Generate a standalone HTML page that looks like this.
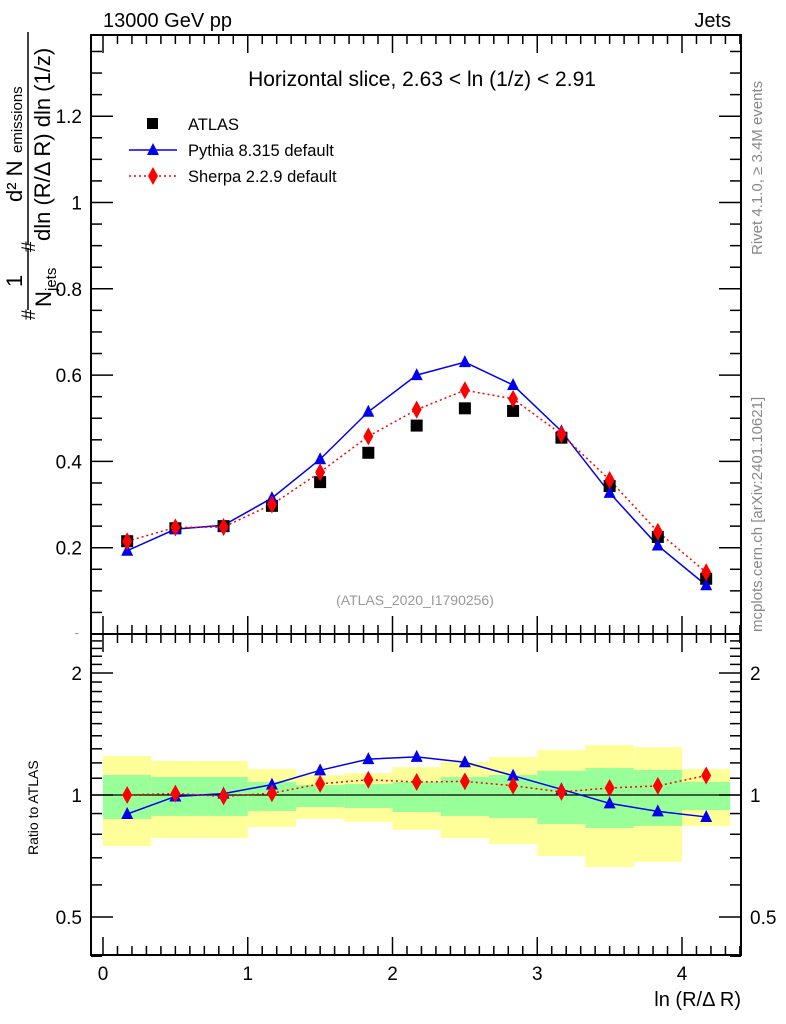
<!DOCTYPE html>
<html><head><meta charset="utf-8"><style>
body{margin:0;background:#fff;}
svg{display:block;font-family:"Liberation Sans",sans-serif;}
</style></head><body>
<svg id="chart" width="786" height="1024" viewBox="0 0 786 1024" xmlns="http://www.w3.org/2000/svg">
<defs><clipPath id="zclip"><rect x="0" y="0" width="90" height="634"/></clipPath></defs>
<text x="103" y="27" font-size="20">13000 GeV pp</text>
<text x="731" y="27" font-size="20" text-anchor="end">Jets</text>
<text x="422" y="86" font-size="21" text-anchor="middle">Horizontal slice, 2.63 &lt; ln (1/z) &lt; 2.91</text>
<text x="415" y="605" font-size="14" fill="#999" text-anchor="middle">(ATLAS_2020_I1790256)</text>
<text transform="translate(762,255) rotate(-90)" font-size="15" fill="#888">Rivet 4.1.0, ≥ 3.4M events</text>
<text transform="translate(762,632) rotate(-90)" font-size="15" fill="#888">mcplots.cern.ch [arXiv:2401.10621]</text>
<text x="82" y="647" font-size="19" text-anchor="end" clip-path="url(#zclip)">0</text>
<g font-size="22">
<text transform="translate(50,241) rotate(-90)">dln (R/Δ R) dln (1/z)</text>
<line x1="28" y1="32" x2="28" y2="244" stroke="#000" stroke-width="1.5"/>
<text transform="translate(22,202) rotate(-90)">d² N</text>
<text transform="translate(22,153) rotate(-90)" font-size="15">emissions</text>
<text transform="translate(35,252) rotate(-90)" font-size="19">#</text>
<line x1="28" y1="248" x2="28" y2="310" stroke="#000" stroke-width="1.5"/>
<text transform="translate(22,287) rotate(-90)">1</text>
<text transform="translate(51,307) rotate(-90)">N</text>
<text transform="translate(56,291) rotate(-90)" font-size="15">jets</text>
<text transform="translate(35,320) rotate(-90)" font-size="19">#</text>
</g>
<text transform="translate(38,855) rotate(-90)" font-size="14">Ratio to ATLAS</text>
<text x="741" y="1006" font-size="20" text-anchor="end">ln (R/Δ R)</text>
<g id="plot"></g>
</svg>
<script>
const binEdges=[0,0.333,0.667,1,1.333,1.667,2,2.333,2.667,3,3.333,3.667,4,4.333];
const xCenters=[0.167,0.5,0.833,1.167,1.5,1.833,2.167,2.5,2.833,3.167,3.5,3.833,4.167];
const atlas=[0.215,0.245,0.25,0.297,0.352,0.42,0.483,0.523,0.517,0.455,0.343,0.225,0.128];
const pythia=[0.193,0.243,0.252,0.315,0.405,0.515,0.6,0.63,0.577,0.47,0.327,0.205,0.113];
const sherpa=[0.215,0.247,0.248,0.300,0.375,0.458,0.52,0.565,0.545,0.463,0.357,0.237,0.143];
const yellowHi=[1.248,1.213,1.213,1.159,1.12,1.133,1.172,1.206,1.241,1.291,1.328,1.313,1.159];
const yellowLo=[0.748,0.783,0.783,0.834,0.873,0.858,0.82,0.783,0.757,0.707,0.664,0.684,0.839];
const greenHi=[1.12,1.108,1.108,1.077,1.058,1.064,1.077,1.108,1.12,1.146,1.166,1.153,1.077];
const greenLo=[0.873,0.888,0.888,0.913,0.934,0.929,0.908,0.888,0.877,0.848,0.829,0.839,0.918];
const xTicks=[0,1,2,3,4];
const yTicks=[0.2,0.4,0.6,0.8,1,1.2];
const yTickLabels=["0.2","0.4","0.6","0.8","1","1.2"];
const rTicks=[0.5,1,2];
const rTickLabels=["0.5","1","2"];

const NS="http://www.w3.org/2000/svg";
const g=document.getElementById('plot');
const L=91,R=741,T=35,MB=634,RT=634,RB=955;
const X=v=>103+v*144.75;
const Y=v=>634-v*431.5;
const YR=v=>795-Math.log2(v)*122;
function mk(tag,attrs,parent){const e=document.createElementNS(NS,tag);for(const k in attrs)e.setAttribute(k,attrs[k]);(parent||g).appendChild(e);return e;}

for(let i=0;i<xCenters.length;i++){
  let e=mk('rect',{x:X(binEdges[i]),y:YR(yellowHi[i]),width:X(binEdges[i+1])-X(binEdges[i]),height:YR(yellowLo[i])-YR(yellowHi[i]),fill:'#ffff99'});
  
  
}
for(let i=0;i<xCenters.length;i++){
  let e=mk('rect',{x:X(binEdges[i]),y:YR(greenHi[i]),width:X(binEdges[i+1])-X(binEdges[i]),height:YR(greenLo[i])-YR(greenHi[i]),fill:'#99ff99'});
  
  
}
let ref=mk('line',{x1:L,x2:R,y1:YR(1),y2:YR(1),stroke:'#000','stroke-width':1.3});



let f1=mk('rect',{x:L,y:T,width:R-L,height:MB-T,fill:'none',stroke:'#000','stroke-width':2});


let f2=mk('rect',{x:L,y:RT,width:R-L,height:RB-RT,fill:'none',stroke:'#000','stroke-width':2});



for(let v=0;v<=4.4;v+=0.1){
  const vv=Math.round(v*10)/10; const major=Math.abs(vv-Math.round(vv))<1e-6; const len=major?18:9;
  const x=X(vv); if(x>R)break;
  for(const [a,b] of [[T,T+len],[MB-len,MB],[RT,RT+len],[RB-len,RB]]){
    let t=mk('line',{x1:x,x2:x,y1:a,y2:b,stroke:'#000','stroke-width':1.5});
    
    
  }
}
xTicks.forEach(v=>{
  let t=mk('text',{x:X(v),y:980,'font-size':19,'text-anchor':'middle'});t.textContent=v;
  
  
});
for(let v=0.05;v<1.39;v+=0.05){
  const vv=Math.round(v*100)/100;const major=Math.abs(vv*5-Math.round(vv*5))<1e-6;const len=major?22:11;
  for(const [a,b] of [[L,L+len],[R-len,R]]){
    let t=mk('line',{x1:a,x2:b,y1:Y(vv),y2:Y(vv),stroke:'#000','stroke-width':1.5});
    
    
  }
}
yTicks.forEach((v,i)=>{
  let t=mk('text',{x:82,y:Y(v)+7,'font-size':19,'text-anchor':'end'});t.textContent=yTickLabels[i];
  
  
});
[0.4,0.5,0.6,0.7,0.8,0.9,1,2].forEach(v=>{
  const major=rTicks.includes(v);const len=major?22:11;
  for(const [a,b] of [[L,L+len],[R-len,R]]){
    let t=mk('line',{x1:a,x2:b,y1:YR(v),y2:YR(v),stroke:'#000','stroke-width':1.5});
    
    
  }
});
for(let v=1.1;v<=2.5;v+=0.1){const vv=Math.round(v*10)/10; if(vv===2)continue;
  for(const [a,b] of [[L,L+11],[R-11,R]]){
    let t=mk('line',{x1:a,x2:b,y1:YR(vv),y2:YR(vv),stroke:'#000','stroke-width':1.5});
    
    
  }
}
rTicks.forEach((v,i)=>{
  let t=mk('text',{x:82,y:YR(v)+7,'font-size':19,'text-anchor':'end'});t.textContent=rTickLabels[i];
  
  
  let t2=mk('text',{x:750,y:YR(v)+7,'font-size':19});t2.textContent=rTickLabels[i];
  
  
});

function tri(x,y,c,name){let p=mk('polygon',{points:`${x},${y-7} ${x-6},${y+5} ${x+6},${y+5}`,fill:c});}
function dia(x,y,c,name){let p=mk('polygon',{points:`${x},${y-9} ${x-5},${y} ${x},${y+9} ${x+5},${y}`,fill:c});}
function line(pts,c,dash,name){let p=mk('polyline',{points:pts.map(q=>q.join(',')).join(' '),fill:'none',stroke:c,'stroke-width':1.5});if(dash)p.setAttribute('stroke-dasharray','2,3');}

line(xCenters.map((x,i)=>[X(x),Y(pythia[i])]),'#0000ee',false,'pythia-line');
line(xCenters.map((x,i)=>[X(x),Y(sherpa[i])]),'#ff0000',true,'sherpa-line');
xCenters.forEach((x,i)=>{
  let s=mk('rect',{x:X(x)-6,y:Y(atlas[i])-6,width:12,height:12,fill:'#000'});
  
  
});
xCenters.forEach((x,i)=>tri(X(x),Y(pythia[i]),'#0000ee','pythia-point'));
xCenters.forEach((x,i)=>dia(X(x),Y(sherpa[i]),'#ff0000','sherpa-point'));

line(xCenters.map((x,i)=>[X(x),YR(pythia[i]/atlas[i])]),'#0000ee',false,'pythia-ratio-line');
line(xCenters.map((x,i)=>[X(x),YR(sherpa[i]/atlas[i])]),'#ff0000',true,'sherpa-ratio-line');
xCenters.forEach((x,i)=>tri(X(x),YR(pythia[i]/atlas[i]),'#0000ee','pythia-ratio-point'));
xCenters.forEach((x,i)=>dia(X(x),YR(sherpa[i]/atlas[i]),'#ff0000','sherpa-ratio-point'));

let lg=mk('g',{});
let ls=mk('rect',{x:147,y:118,width:11,height:11,fill:'#000'},lg);
let lt1=mk('text',{x:188,y:130,'font-size':16.5},lg);lt1.textContent='ATLAS';
let ll1=mk('line',{x1:129,x2:177,y1:150,y2:150,stroke:'#0000ee','stroke-width':1.5},lg);
tri(153,150,'#0000ee','legend-pythia-marker');
let lt2=mk('text',{x:188,y:156,'font-size':16.5},lg);lt2.textContent='Pythia 8.315 default';
let ll2=mk('line',{x1:129,x2:177,y1:176,y2:176,stroke:'#ff0000','stroke-width':1.5,'stroke-dasharray':'2,3'},lg);
dia(153,176,'#ff0000','legend-sherpa-marker');
let lt3=mk('text',{x:188,y:182,'font-size':16.5},lg);lt3.textContent='Sherpa 2.2.9 default';
</script>
</body></html>
